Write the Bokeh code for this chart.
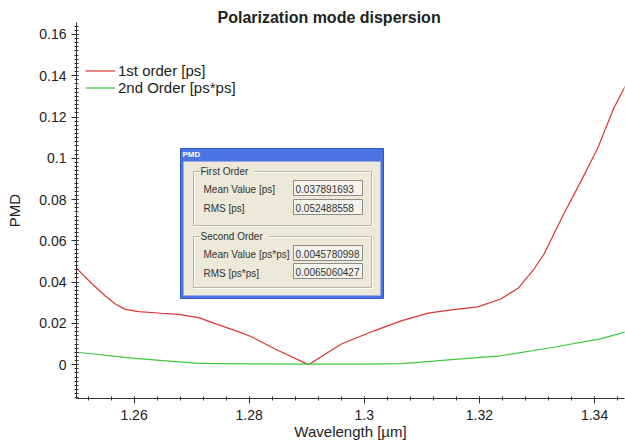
from bokeh.plotting import figure
from bokeh.models import Range1d, FixedTicker, Legend, LegendItem, Label, BoxAnnotation
from bokeh.embed import file_html
from bokeh.resources import INLINE

# ---- data ----
wavelength_1st = [1.2500, 1.2525, 1.2550, 1.2568, 1.2585, 1.2608, 1.2648, 1.2677, 1.2712,
                  1.2752, 1.2787, 1.2804, 1.2844, 1.2903, 1.2960, 1.3017, 1.3064, 1.3111,
                  1.3151, 1.3197, 1.3237, 1.3267, 1.3294, 1.3312, 1.3346, 1.3376, 1.3405,
                  1.3433, 1.3454]
pmd_1st = [0.0468, 0.0397, 0.0333, 0.0293, 0.0268, 0.0257, 0.0249, 0.0244, 0.0228,
           0.0188, 0.0154, 0.0135, 0.0077, 0.0000, 0.0100, 0.0164, 0.0212, 0.0250,
           0.0265, 0.0280, 0.0318, 0.0370, 0.0460, 0.0535, 0.0728, 0.0887, 0.1046,
           0.1240, 0.1354]

wavelength_2nd = [1.2500, 1.2597, 1.2666, 1.2713, 1.2800, 1.2900, 1.3000, 1.3064, 1.3100,
                  1.3151, 1.3237, 1.3324, 1.3410, 1.3454]
pmd_2nd = [0.0060, 0.0032, 0.0016, 0.0006, 0.0004, 0.0003, 0.0003, 0.0005, 0.0012,
           0.0024, 0.0043, 0.0082, 0.0125, 0.0159]

series_names = ["1st order [ps]", "2nd Order [ps*ps]"]
series_colors = ["#dd3535", "#3cc83c"]

x_ticks = [1.26, 1.28, 1.30, 1.32, 1.34]
x_tick_labels = ["1.26", "1.28", "1.3", "1.32", "1.34"]
y_ticks = [0.0, 0.02, 0.04, 0.06, 0.08, 0.10, 0.12, 0.14, 0.16]
y_tick_labels = ["0", "0.02", "0.04", "0.06", "0.08", "0.1", "0.12", "0.14", "0.16"]

chart_title = "Polarization mode dispersion"
x_label = "Wavelength [µm]"
y_label = "PMD"

dialog_title = "PMD"
group_titles = ["First Order", "Second Order"]
field_names = ["Mean Value [ps]", "RMS [ps]", "Mean Value [ps*ps]", "RMS [ps*ps]"]
field_values = ["0.037891693", "0.052488558", "0.0045780998", "0.0065060427"]

# ---- layout (figure px) ----
X0, X1 = 1.25, 1.3452
Y0, Y1 = -0.0164, 0.1658
FL, FT = 76, 22          # frame left / top
FW, FH = 548, 376        # frame size
FB = FT + FH


def px2x(px):
    return X0 + (px - FL) / FW * (X1 - X0)


def px2y(py):
    return Y0 + (FB - py) / FH * (Y1 - Y0)


FONT = "Liberation Sans"
INK = "#222222"

p = figure(frame_width=FW, frame_height=FH, output_backend="svg", toolbar_location=None,
           x_range=Range1d(X0, X1), y_range=Range1d(Y0, Y1),
           min_border_left=FL, min_border_right=1, min_border_top=FT, min_border_bottom=45,
           title=chart_title)
p.outline_line_color = None
p.xgrid.visible = False
p.ygrid.visible = False
p.background_fill_color = "white"
p.border_fill_color = "white"

p.title.text_font = FONT
p.title.text_font_size = "16px"
p.title.text_font_style = "bold"
p.title.text_color = INK
p.title.align = "left"
p.title.offset = 141
p.title.standoff = -6

p.xaxis.ticker = FixedTicker(ticks=x_ticks, minor_ticks=[round(1.248 + 0.004 * i, 3) for i in range(26)])
p.xaxis.major_label_overrides = {t: l for t, l in zip(x_ticks, x_tick_labels)}
p.yaxis.ticker = FixedTicker(ticks=y_ticks, minor_ticks=[round(-0.016 + 0.002 * i, 3) for i in range(92)])
p.yaxis.major_label_overrides = {t: l for t, l in zip(y_ticks, y_tick_labels)}

p.xaxis.axis_label = x_label
p.yaxis.axis_label = y_label
for ax in (p.xaxis, p.yaxis):
    ax.axis_line_color = "#333333"
    ax.major_tick_line_color = "#333333"
    ax.minor_tick_line_color = "#333333"
    ax.major_tick_out = 5
    ax.major_tick_in = 2
    ax.minor_tick_out = 2
    ax.minor_tick_in = 2
    ax.major_label_text_font = FONT
    ax.major_label_text_font_size = "14px"
    ax.major_label_text_color = INK
    ax.axis_label_text_font = FONT
    ax.axis_label_text_font_size = "15px"
    ax.axis_label_text_font_style = "normal"
    ax.axis_label_text_color = INK
p.xaxis.major_label_standoff = 6
p.xaxis.axis_label_standoff = 0
p.yaxis.major_label_standoff = 5
p.yaxis.axis_label_standoff = 13

r1 = p.line(wavelength_1st, pmd_1st, line_color=series_colors[0], line_width=1.2)
r2 = p.line(wavelength_2nd, pmd_2nd, line_color=series_colors[1], line_width=1.2)

legend = Legend(items=[LegendItem(label=series_names[0], renderers=[r1]),
                       LegendItem(label=series_names[1], renderers=[r2])],
                location=(9, 302), orientation="vertical")
legend.background_fill_alpha = 0
legend.border_line_color = None
legend.padding = 0
legend.spacing = 0
legend.margin = 0
legend.glyph_width = 30
legend.glyph_height = 17
legend.label_height = 17
legend.label_standoff = 3
legend.label_text_font = FONT
legend.label_text_font_size = "15px"
legend.label_text_color = INK
p.add_layout(legend)


# ---- inset dialog (screenshot of a window) ----
def box(l, t, r, b, fill=None, line=None, lw=1):
    p.add_layout(BoxAnnotation(left=px2x(l), right=px2x(r), top=px2y(t), bottom=px2y(b),
                               fill_color=fill, fill_alpha=1 if fill else 0,
                               line_color=line, line_alpha=1 if line else 0, line_width=lw,
                               level="overlay"))


def txt(x, y, s, size="10px", color="#333333", bold=False, bg=None):
    p.add_layout(Label(x=px2x(x), y=px2y(y), text=s, text_font=FONT, text_font_size=size,
                       text_font_style="bold" if bold else "normal", text_color=color,
                       text_align="left", text_baseline="middle",
                       background_fill_color=bg, background_fill_alpha=1 if bg else 0,
                       level="overlay"))


BODY = "#ECE9D8"
box(180, 148, 383, 298, fill="#4a74e2", line="#2d58cc")
box(183, 161, 380, 295, fill=BODY)
txt(182, 154, dialog_title, size="8px", color="white", bold=True)

group_tops = [171, 236]
group_bottoms = [225, 287]
for gt, gb, name in zip(group_tops, group_bottoms, group_titles):
    box(194, gt + 1, 372, gb + 1, line="white")
    box(193, gt, 371, gb, line="#b9b6a6")
    txt(200, gt, " " + name + " ", bg=BODY)

label_ys = [189, 208, 254, 273]
field_tops = [180, 199, 245, 263]
for ly, ft, name, val in zip(label_ys, field_tops, field_names, field_values):
    txt(203, ly, name)
    box(293, ft, 362, ft + 15, fill="#F4F3EC", line="#8c8c8c")
    txt(295, ft + 8, val)

with open("out.html", "w") as f:
    f.write(file_html(p, INLINE))
